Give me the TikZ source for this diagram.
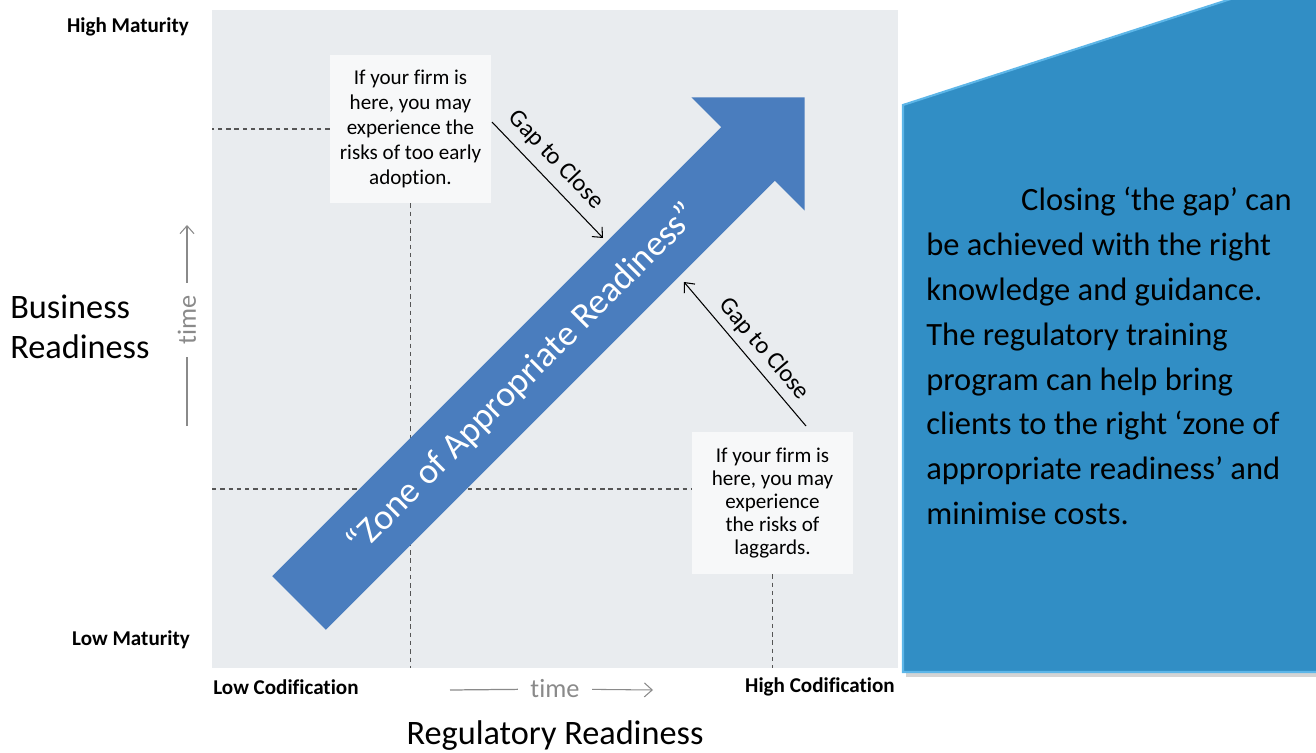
\documentclass[tikz,border=0pt]{standalone}
\usepackage{fontspec}
\setmainfont{Carlito}[Ligatures=NoCommon]
\usetikzlibrary{arrows.meta}

\definecolor{panelgray}{HTML}{E9ECEF}
\definecolor{notewhite}{HTML}{F7F8F9}
\definecolor{zoneblue}{HTML}{4A7DBE}
\definecolor{calloutblue}{HTML}{318EC5}
\definecolor{calloutedge}{HTML}{5DB6E8}
\definecolor{timegray}{HTML}{8A8A8A}
\definecolor{guidegray}{HTML}{555555}

\begin{document}
\begin{tikzpicture}[x=0.02cm, y=-0.02cm,
    panel/.style={rectangle, fill=panelgray, minimum width=13.72cm, minimum height=13.16cm, inner sep=0pt},
    notebox/.style={rectangle, fill=notewhite, minimum width=3.22cm, inner sep=0pt, align=center},
    axislabel/.style={font=\fontsize{12}{14}\selectfont\bfseries, inner sep=0pt},
    bigtitle/.style={font=\fontsize{19.5}{23}\selectfont, inner sep=0pt},
    gaplabel/.style={font=\fontsize{14}{16}\selectfont, inner sep=0pt},
    timelabel/.style={font=\fontsize{15}{17}\selectfont, text=timegray, inner sep=7pt},
    zonetext/.style={font=\fontsize{20.5}{24}\selectfont, text=white, inner sep=0pt},
    callouttext/.style={font=\fontsize{18.5}{25.5}\selectfont, align=left, inner sep=0pt},
    gaparrow/.style={-{Straight Barb[length=4.5pt,width=8pt]}, line width=0.6pt},
    timeline/.style={timegray, line width=0.7pt},
    guide/.style={guidegray, line width=0.6pt, dash pattern=on 2.5pt off 2.2pt},
    ]
    \useasboundingbox (0,0) rectangle (1316,753);

    %Panel and callout
    \node[panel] (panel) at (555,339) {};
    \fill[black!17] (906,668) rectangle (1316,677);
    \draw[calloutedge, fill=calloutblue, line width=1.2pt]
        (903,105) -- (1240,-4) -- (1322,-4) -- (1322,672) -- (903,672) -- cycle;
    \node[callouttext, anchor=north west] (gaptext) at (926,187)
        {\hspace*{54pt}Closing ‘the gap’ can\\
         be achieved with the right\\
         knowledge and guidance.\\
         The regulatory training\\
         program can help bring\\
         clients to the right ‘zone of\\
         appropriate readiness’ and\\
         minimise costs.};

    %Notes
    \node[notebox, minimum height=2.96cm, font=\fontsize{12}{14.2}\selectfont] (early) at (410.5,129)
        {If your firm is\\here, you may\\experience the\\risks of too early\\adoption.};
    \node[notebox, minimum height=2.84cm, font=\fontsize{12}{13.2}\selectfont] (late) at (772.5,503)
        {If your firm is\\here, you may\\experience\\the risks of\\laggards.};

    %Guides
    \coordinate (lowmark) at (212,489);
    \draw[guide] (early.west) -- (early.west -| panel.west);
    \draw[guide] (early.south) -- (early.south |- panel.south);
    \draw[guide] (lowmark) -- (lowmark -| late.west);
    \draw[guide] (late.south) -- (late.south |- panel.south);

    %Zone arrow
    \begin{scope}[shift={(299,603)}, rotate=45]
        \fill[zoneblue] (0,-38) -- (635,-38) -- (635,-80) -- (715,0) -- (635,80) -- (635,38) -- (0,38) -- cycle;
        \node[zonetext, rotate=45] (zone) at (317,0) {“Zone of Appropriate Readiness”};
    \end{scope}

    %Gaps
    \coordinate (gapAs) at (492,122);
    \coordinate (gapAe) at (603,238);
    \coordinate (gapBs) at (806,426);
    \coordinate (gapBe) at (684,282);
    \draw[gaparrow] (gapAs) -- (gapAe);
    \draw[gaparrow] (gapBs) -- (gapBe);
    \node[gaplabel, rotate=-46.5] (gapA) at (556,160) {Gap to Close};
    \node[gaplabel, rotate=-49.5] (gapB) at (764,349) {Gap to Close};

    %Axes
    \node[axislabel] (highmat) at (128,27) {High Maturity};
    \node[axislabel] (lowmat) at (131,640) {Low Maturity};
    \node[axislabel, anchor=west] (lowcod) at (213,687) {Low Codification};
    \node[axislabel, anchor=east] (highcod) at (895,687) {High Codification};
    \node[bigtitle] (regready) at (555,736) {Regulatory Readiness};
    \node[bigtitle, align=left, anchor=west] (busready) at (10,327) {Business\\Readiness};

    \node[timelabel] (htime) at (555,689) {time};
    \coordinate (htimeL) at (450,690);
    \coordinate (htimeR) at (653,690);
    \draw[timeline] (htimeL) -- (htime);
    \draw[timeline, gaparrow] (htime) -- (htimeR);

    \node[timelabel, rotate=90] (vtime) at (187,320) {time};
    \coordinate (vtimeB) at (187,426);
    \coordinate (vtimeT) at (187,225);
    \draw[timeline] (vtimeB) -- (vtime);
    \draw[timeline, gaparrow] (vtime) -- (vtimeT);

    \end{tikzpicture}
\end{document}
